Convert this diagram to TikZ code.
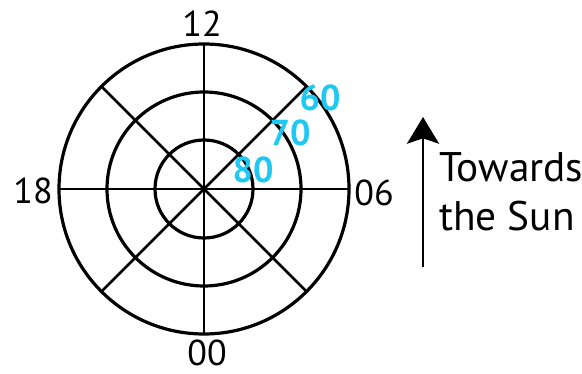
\documentclass[tikz,border=0pt]{standalone}
\usepackage{fontspec}
\setmainfont{PT Sans}
\usetikzlibrary{arrows.meta}
\definecolor{skyblue}{RGB}{30,200,240}
\tikzset{
  ring/.style={line width=2.4pt},
  spk/.style={line width=2.1pt},
  hlbl/.style={font=\fontsize{27}{32}\selectfont, inner sep=0pt},
  zlbl/.style={hlbl, font=\fontsize{27}{32}\selectfont\bfseries, text=skyblue},   % zenith angles
  txt/.style={font=\fontsize{31}{36}\selectfont, inner sep=0pt, anchor=base west},
  sun/.style={-{Stealth[length=20pt, width=24pt, inset=4pt]}, line width=2.1pt},
}

\begin{document}
\begin{tikzpicture}[x=0.75pt, y=-0.75pt]
  \useasboundingbox (0,0) rectangle (582,374);
  \coordinate (o) at (204,189);
  \foreach \r in {145,97,49} \draw[ring] (o) circle[radius=\r];
  \foreach \a in {0,45,...,315} \draw[spk] (o) -- ++(\a:145);
  % hours
  \node[hlbl] (h12) at (202,24) {12};
  \node[hlbl] (h06) at (374,193) {06};
  \node[hlbl] (h00) at (207,353) {00};
  \node[hlbl] (h18) at (33,191) {18};
  % zenith
  \node[zlbl] (z60) at (320,98) {60};
  \node[zlbl] (z70) at (290,133) {70};
  \node[zlbl] (z80) at (253,170) {80};
  % sun direction
  \coordinate (s0) at (423,267);
  \coordinate (s1) at (423,117);
  \draw[sun] (s0) -- (s1);
  \node[txt] (tw) at (439,182) {Towards};
  \node[txt] (ts) at (439,230) {the Sun};
\end{tikzpicture}
\end{document}
